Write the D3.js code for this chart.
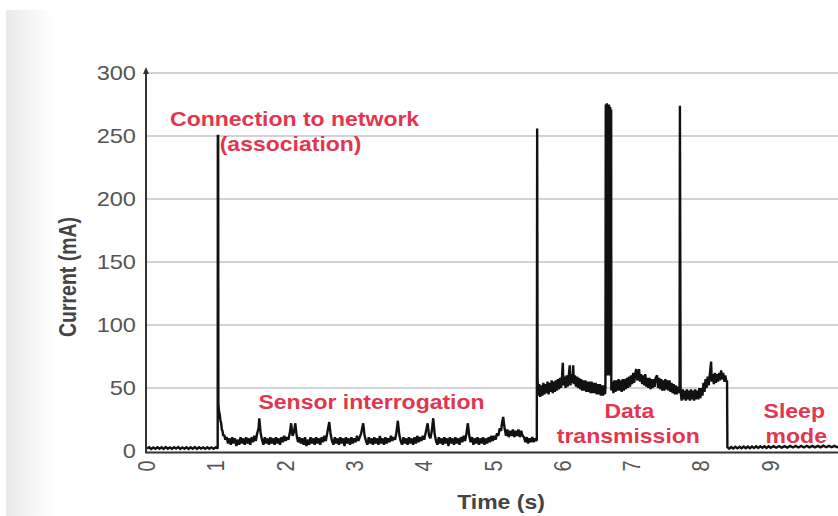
<!DOCTYPE html>
<html>
<head>
<meta charset="utf-8">
<script src="https://cdn.jsdelivr.net/npm/d3@7"></script>
<style>
  html, body { margin: 0; padding: 0; background: #ffffff; }
  svg { display: block; }
</style>
</head>
<body>
<svg id="chart" width="838" height="516"></svg>
<script>
// ---------------- DATA ----------------
const yTicks = [0, 50, 100, 150, 200, 250, 300];
const xTicks = [0, 1, 2, 3, 4, 5, 6, 7, 8, 9];
const xTitle = "Time (s)";
const yTitle = "Current (mA)";

// [time (s), current (mA)]
const idlePhase = [
  [0,2],[0.03,3],[0.06,1.6],[0.09,2.8],[0.12,1.7],[0.15,3],[0.18,1.8],[0.21,2.9],[0.24,1.6],
  [0.27,3.1],[0.3,1.8],[0.33,2.8],[0.36,1.7],[0.39,3],[0.42,1.9],[0.45,3.1],[0.48,1.7],
  [0.51,2.9],[0.54,1.8],[0.57,3],[0.6,1.6],[0.63,2.9],[0.66,1.8],[0.69,3.1],[0.72,1.7],
  [0.75,3],[0.78,1.9],[0.81,2.8],[0.84,1.7],[0.87,3],[0.9,1.8],[0.93,2.9],[0.96,1.7],
  [0.99,2.8],[1.015,2.2]
];
const associationPhase = [
  [1.02,2],[1.022,250],[1.027,250],[1.03,37],[1.04,31],[1.05,29],[1.06,24],[1.07,22],[1.08,17],
  [1.09,16],[1.1,12],[1.115,13],[1.13,9]
];
const sensorPhase = [
  [1.15,11],[1.17,6],[1.19,10],[1.21,5],[1.23,11],[1.25,6],[1.27,10],[1.29,4],[1.31,9],[1.33,5],
  [1.35,11],[1.37,6],[1.39,10],[1.41,5],[1.43,11],[1.45,6],[1.47,10],[1.49,5],[1.51,11],[1.53,7],
  [1.55,12],[1.57,8],[1.59,14],[1.61,18],[1.62,26],[1.64,14],[1.66,9],[1.68,5],[1.70,11],[1.72,6],
  [1.74,10],[1.76,5],[1.78,11],[1.80,6],[1.82,10],[1.84,5],[1.86,11],[1.88,6],[1.90,10],[1.92,5],
  [1.94,11],[1.96,7],[1.98,12],[2.00,8],[2.02,11],[2.04,9],[2.06,14],[2.08,22],[2.10,12],[2.12,15],
  [2.14,22],[2.16,12],[2.18,7],[2.20,11],[2.22,6],[2.24,10],[2.26,5],[2.28,11],[2.30,4],[2.32,9],
  [2.34,5],[2.36,11],[2.38,6],[2.40,10],[2.42,5],[2.44,11],[2.46,6],[2.48,10],[2.50,5],[2.52,11],
  [2.54,7],[2.56,12],[2.58,8],[2.60,14],[2.63,23],[2.65,13],[2.67,8],[2.69,5],[2.71,11],[2.73,6],
  [2.75,10],[2.77,5],[2.79,11],[2.81,6],[2.83,10],[2.85,4],[2.87,11],[2.89,6],[2.91,10],[2.93,5],
  [2.95,11],[2.97,6],[2.99,10],[3.01,7],[3.03,12],[3.05,8],[3.07,11],[3.09,14],[3.12,22],[3.14,12],
  [3.16,8],[3.18,5],[3.20,11],[3.22,6],[3.24,10],[3.26,5],[3.28,11],[3.30,6],[3.32,10],[3.34,5],
  [3.36,12],[3.38,6],[3.40,10],[3.42,5],[3.44,11],[3.46,6],[3.48,10],[3.50,7],[3.52,12],[3.54,8],
  [3.56,11],[3.58,9],[3.60,15],[3.62,24],[3.64,13],[3.66,8],[3.68,5],[3.70,11],[3.72,6],[3.74,10],
  [3.76,5],[3.78,11],[3.80,6],[3.82,10],[3.84,5],[3.86,11],[3.88,6],[3.90,12],[3.92,7],[3.94,11],
  [3.96,8],[3.98,12],[4.00,9],[4.02,14],[4.05,22],[4.07,12],[4.09,10],[4.11,16],[4.13,26],[4.15,14],
  [4.17,8],[4.19,5],[4.21,11],[4.23,6],[4.25,10],[4.27,5],[4.29,11],[4.31,6],[4.33,10],[4.35,4],
  [4.37,11],[4.39,6],[4.41,10],[4.43,5],[4.45,11],[4.47,6],[4.49,10],[4.51,5],[4.53,11],[4.55,7],
  [4.57,12],[4.59,8],[4.61,14],[4.63,22],[4.65,12],[4.67,7],[4.69,11],[4.71,5],[4.73,10],[4.75,6],
  [4.77,11],[4.79,5],[4.81,10],[4.83,6],[4.85,11],[4.87,5],[4.89,10],[4.91,6],[4.93,11],[4.95,7],
  [4.97,12],[4.99,8],[5.01,12],[5.03,9],[5.05,14],[5.07,12],[5.09,18],[5.11,16],[5.12,21],[5.14,27],
  [5.16,18],[5.18,12],[5.20,17],[5.22,11],[5.24,16],[5.26,12],[5.28,17],[5.30,11],[5.32,16],[5.34,12],
  [5.36,17],[5.38,11],[5.40,16],[5.42,12],[5.44,11],[5.46,7],[5.48,11],[5.50,6],[5.52,10],[5.54,7],
  [5.56,11],[5.58,7],[5.60,10],[5.615,8]
];
const transmissionPhase = [
  [5.625,9],[5.63,256],[5.636,58],[5.645,44],[5.66,53],[5.675,43],[5.69,52],[5.705,44],[5.72,54],
  [5.735,45],[5.75,53],[5.765,46],[5.78,55],[5.795,45],[5.81,54],[5.825,47],[5.84,56],[5.855,46],
  [5.87,55],[5.885,47],[5.90,56],[5.915,48],[5.93,57],[5.945,49],[5.96,58],[5.975,50],[5.99,60],
  [6.00,70],[6.01,52],[6.025,59],[6.04,50],[6.055,60],[6.07,51],[6.085,59],[6.10,68],[6.11,52],
  [6.125,61],[6.14,54],[6.15,68],[6.16,53],[6.175,60],[6.19,51],[6.205,59],[6.22,50],[6.235,58],
  [6.25,49],[6.265,57],[6.28,48],[6.295,56],[6.31,48],[6.325,56],[6.34,47],[6.355,55],[6.37,47],
  [6.385,55],[6.40,46],[6.415,55],[6.43,46],[6.445,54],[6.46,46],[6.475,54],[6.49,45],[6.505,53],
  [6.52,45],[6.535,53],[6.55,44],[6.565,52],[6.58,44],[6.595,52],[6.61,45],[6.615,50],
  [6.62,275],[6.628,60],[6.636,276],[6.644,62],[6.652,274],[6.66,60],[6.668,275],[6.676,62],
  [6.684,273],[6.692,60],[6.698,271],
  [6.70,48],[6.715,55],[6.73,46],[6.745,56],[6.76,47],[6.775,56],[6.79,48],[6.805,57],[6.82,48],
  [6.835,56],[6.85,47],[6.865,57],[6.88,48],[6.895,57],[6.91,49],[6.925,58],[6.94,50],[6.955,59],
  [6.97,51],[6.985,60],[7.00,53],[7.015,62],[7.03,54],[7.045,61],[7.06,65],[7.075,56],[7.09,61],
  [7.10,65],[7.115,55],[7.13,61],[7.145,53],[7.16,60],[7.175,52],[7.19,61],[7.205,51],[7.22,58],
  [7.235,50],[7.25,58],[7.265,49],[7.28,57],[7.295,50],[7.31,57],[7.325,51],[7.34,58],[7.36,60],
  [7.375,50],[7.39,58],[7.405,49],[7.42,57],[7.435,48],[7.45,56],[7.465,48],[7.48,57],[7.495,49],
  [7.51,56],[7.525,48],[7.54,56],[7.555,47],[7.57,54],[7.585,46],[7.60,53],[7.615,45],[7.63,52],
  [7.645,45],[7.66,51],[7.675,46],[7.685,50],[7.69,274],[7.70,47],[7.715,40],[7.73,49],[7.745,41],
  [7.76,48],[7.775,40],[7.79,49],[7.805,41],[7.82,48],[7.835,40],[7.85,49],[7.865,41],[7.88,48],
  [7.895,40],[7.91,49],[7.925,41],[7.94,48],[7.955,41],[7.97,50],[7.985,42],[8.00,50],[8.015,44],
  [8.03,54],[8.045,47],[8.06,57],[8.075,50],[8.09,59],[8.105,52],[8.12,60],[8.14,71],[8.15,55],
  [8.165,61],[8.18,53],[8.195,62],[8.21,54],[8.225,61],[8.24,55],[8.255,62],[8.27,56],[8.285,64],
  [8.30,57],[8.315,62],[8.33,55],[8.345,60],[8.36,55]
];
const sleepPhase = [
  [8.37,56],[8.375,3],[8.40,1.8],[8.43,3.2],[8.46,2],[8.49,3.3],[8.52,2.1],[8.55,3.4],[8.58,2.2],
  [8.61,3.5],[8.64,2.2],[8.67,3.6],[8.7,2.3],[8.73,3.6],[8.76,2.4],[8.79,3.7],[8.82,2.4],[8.85,3.7],
  [8.88,2.5],[8.91,3.8],[8.94,2.5],[8.97,3.8],[9.0,2.6],[9.04,3.8],[9.08,2.6],[9.12,3.9],[9.16,2.7],
  [9.2,3.9],[9.24,2.7],[9.28,4],[9.32,2.8],[9.36,4],[9.4,2.8],[9.44,4],[9.48,2.8],[9.52,4.1],
  [9.56,2.9],[9.6,4.1],[9.64,2.9],[9.68,4.1],[9.72,2.9],[9.76,4.2],[9.8,3],[9.84,4.1],[9.88,3],
  [9.92,4.1],[9.96,3],[10.0,3.8]
];

const annotations = [
  { lines: ["Connection to network", "(association)"], t: 2.13, v: 258, dx: [0, -4] },
  { lines: ["Sensor interrogation"], t: 3.24, v: 33, dx: [0] },
  { lines: ["Data", "transmission"], t: 6.96, v: 26, dx: [0, -1] },
  { lines: ["Sleep", "mode"], t: 9.34, v: 26, dx: [0, 2] }
];

// ---------------- DRAWING ----------------
const SX = 1.18;              // horizontal stretch of the original image text
const W = 838, H = 516;
const svg = d3.select("#chart");

const defs = svg.append("defs");
const grad = defs.append("linearGradient").attr("id", "bgGrad")
  .attr("x1", "0%").attr("x2", "100%").attr("y1", "0%").attr("y2", "0%");
grad.append("stop").attr("offset", "0%").attr("stop-color", "#e9e9e9");
grad.append("stop").attr("offset", "100%").attr("stop-color", "#ffffff");
svg.append("rect").attr("x", 0).attr("y", 0).attr("width", W).attr("height", H).attr("fill", "#ffffff");
svg.append("rect").attr("x", 6).attr("y", 10).attr("width", 46).attr("height", H - 10).attr("fill", "url(#bgGrad)");

const x = d3.scaleLinear().domain([0, 10]).range([147, 840]);
const y = d3.scaleLinear().domain([0, 300]).range([451, 73]);

// gridlines
svg.append("g").selectAll("line").data(yTicks.filter(d => d > 0)).join("line")
  .attr("x1", x(0)).attr("x2", W)
  .attr("y1", d => y(d)).attr("y2", d => y(d))
  .attr("stroke", "#c4c4c4").attr("stroke-width", 1.3);

// y tick labels
svg.append("g").selectAll("text").data(yTicks).join("text")
  .attr("transform", d => `translate(136,${y(d)}) scale(${SX},1)`)
  .attr("text-anchor", "end").attr("dominant-baseline", "central")
  .attr("font-family", "'Liberation Sans', Arial, sans-serif")
  .attr("font-size", 20).attr("fill", "#555")
  .text(d => d);

// x tick labels (rotated)
svg.append("g").selectAll("text").data(xTicks).join("text")
  .attr("transform", d => `translate(${x(d)},466) scale(${SX},1) rotate(-90)`)
  .attr("text-anchor", "middle").attr("dominant-baseline", "central")
  .attr("font-family", "'Liberation Sans', Arial, sans-serif")
  .attr("font-size", 20).attr("fill", "#555")
  .text(d => d);

// trace
const allData = [idlePhase, associationPhase, sensorPhase, transmissionPhase, sleepPhase].flat();
const line = d3.line().x(d => x(d[0])).y(d => y(d[1]));
svg.append("path").datum(allData)
  .attr("d", line)
  .attr("fill", "none").attr("stroke", "#111").attr("stroke-width", 2.4)
  .attr("stroke-linejoin", "miter").attr("stroke-miterlimit", 2);

// axes lines
svg.append("line").attr("x1", x(0)).attr("x2", W).attr("y1", y(0) + 1.5).attr("y2", y(0) + 1.5)
  .attr("stroke", "#333").attr("stroke-width", 2);
svg.append("line").attr("x1", x(0) - 1).attr("x2", x(0) - 1).attr("y1", y(0) + 2.5).attr("y2", y(300) - 3)
  .attr("stroke", "#333").attr("stroke-width", 2);
svg.append("path")
  .attr("d", `M${x(0) - 1},${y(300) - 6} L${x(0) - 4},${y(300) + 1} L${x(0) + 2},${y(300) + 1} Z`)
  .attr("fill", "#333");

// axis titles
svg.append("text")
  .attr("transform", `translate(501,509) scale(${SX},1)`)
  .attr("text-anchor", "middle")
  .attr("font-family", "'Liberation Sans', Arial, sans-serif")
  .attr("font-weight", "bold").attr("font-size", 19.5).attr("fill", "#444")
  .text(xTitle);
svg.append("text")
  .attr("transform", `translate(76,277) scale(${SX},1) rotate(-90)`)
  .attr("text-anchor", "middle")
  .attr("font-family", "'Liberation Sans', Arial, sans-serif")
  .attr("font-weight", "bold").attr("font-size", 19.5).attr("fill", "#444")
  .text(yTitle);

// annotations
annotations.forEach(a => {
  a.lines.forEach((txt, i) => {
    svg.append("text")
      .attr("transform", `translate(${x(a.t) + a.dx[i]},${y(a.v) + i * 25}) scale(${SX},1)`)
      .attr("text-anchor", "middle")
      .attr("font-family", "'Liberation Sans', Arial, sans-serif")
      .attr("font-weight", "bold").attr("font-size", 19.5)
      .attr("fill", "#e3364e")
      .text(txt);
  });
});
</script>
</body>
</html>
